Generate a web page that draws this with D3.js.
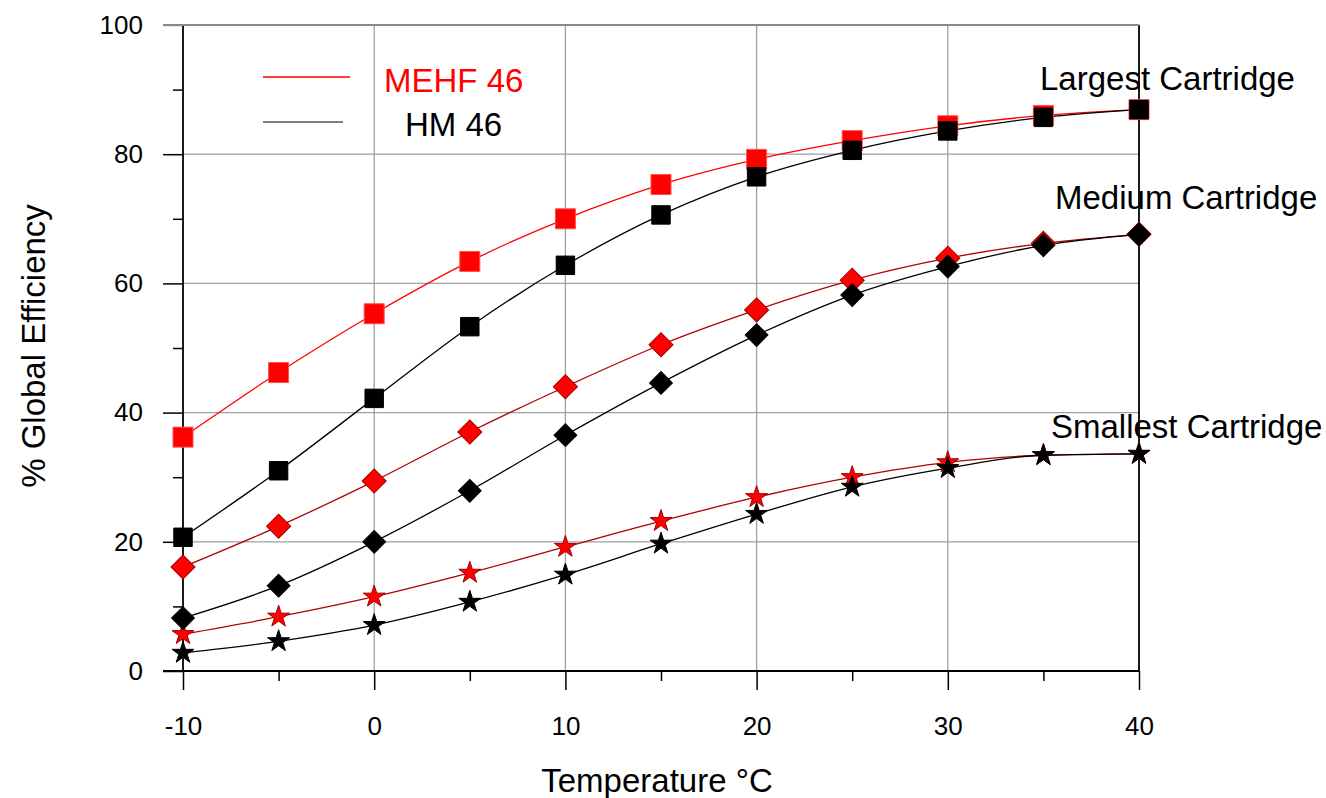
<!DOCTYPE html>
<html>
<head>
<meta charset="utf-8">
<script src="https://cdn.jsdelivr.net/npm/d3@7"></script>
<style>
  body { margin: 0; background: #fff; }
  text { font-family: "Liberation Sans", Arial, sans-serif; fill: #000; }
</style>
</head>
<body>
<div id="chart"></div>
<script>
// temperatures (°C)
var temps = [-10, -5, 0, 5, 10, 15, 20, 25, 30, 35, 40];

// % global efficiency
var mehfLargest  = [36.2, 46.2, 55.3, 63.4, 70.0, 75.3, 79.2, 82.1, 84.4, 86.0, 86.9];
var hmLargest    = [20.7, 31.0, 42.2, 53.3, 62.8, 70.6, 76.5, 80.6, 83.6, 85.7, 86.9];
var mehfMedium   = [16.1, 22.4, 29.4, 37.0, 44.0, 50.5, 55.9, 60.5, 63.9, 66.2, 67.6];
var hmMedium     = [8.2, 13.2, 20.0, 27.9, 36.5, 44.6, 52.0, 58.2, 62.6, 65.9, 67.6];
var mehfSmallest = [5.7, 8.4, 11.5, 15.2, 19.2, 23.2, 26.9, 30.0, 32.3, 33.4, 33.6];
var hmSmallest   = [2.8, 4.6, 7.1, 10.7, 14.9, 19.7, 24.3, 28.5, 31.4, 33.4, 33.6];

var xMajor = [-10, 0, 10, 20, 30, 40];
var xMinor = [-5, 5, 15, 25, 35];
var yMajor = [0, 20, 40, 60, 80, 100];
var yMinor = [10, 30, 50, 70, 90];

var width = 1326, height = 798;
var margin = { top: 25, right: 187, bottom: 127, left: 183 };

var svg = d3.select("#chart").append("svg")
    .attr("width", width)
    .attr("height", height);

var plotW = width - margin.left - margin.right;
var plotH = height - margin.top - margin.bottom;

var g = svg.append("g")
    .attr("transform", "translate(" + margin.left + "," + margin.top + ")");

var x = d3.scaleLinear().domain([-10, 40]).range([0, plotW]);
var y = d3.scaleLinear().domain([0, 100]).range([plotH, 0]);

// grid
g.selectAll(".hgrid").data(yMajor.filter(function(d) { return d > 0; }))
    .enter().append("line")
    .attr("x1", 0).attr("x2", plotW)
    .attr("y1", function(d) { return y(d); })
    .attr("y2", function(d) { return y(d); })
    .attr("stroke", "#a0a0a0").attr("stroke-width", 1.3);

g.selectAll(".vgrid").data(xMajor.filter(function(d) { return d > -10 && d < 40; }))
    .enter().append("line")
    .attr("x1", function(d) { return x(d); })
    .attr("x2", function(d) { return x(d); })
    .attr("y1", 0).attr("y2", plotH)
    .attr("stroke", "#a0a0a0").attr("stroke-width", 1.3);

// axes
var plainNum = function(d) { return String(d); };   // hyphen minus, like the source

var yAxis = g.append("g")
    .call(d3.axisLeft(y).tickValues(yMajor).tickSize(20).tickPadding(20).tickFormat(plainNum));
g.append("g")
    .call(d3.axisLeft(y).tickValues(yMinor).tickSize(10).tickFormat(""));

var xAxis = g.append("g")
    .attr("transform", "translate(0," + plotH + ")")
    .call(d3.axisBottom(x).tickValues(xMajor).tickSize(19).tickPadding(27).tickFormat(plainNum));
g.append("g")
    .attr("transform", "translate(0," + plotH + ")")
    .call(d3.axisBottom(x).tickValues(xMinor).tickSize(10).tickFormat(""));

g.selectAll(".domain").remove();
g.selectAll(".tick line").attr("stroke", "#000").attr("stroke-width", 1.5);
g.selectAll(".tick text")
    .style("font-family", "'Liberation Sans', Arial, sans-serif")
    .style("font-size", "26px")
    .attr("fill", "#000");
// the tick at y=100 is gray like the top border
yAxis.selectAll(".tick").filter(function(d) { return d === 100; }).select("line").attr("stroke", "#a0a0a0");

// frame lines
g.append("line").attr("x1", -20).attr("x2", plotW).attr("y1", plotH).attr("y2", plotH)
    .attr("stroke", "#000").attr("stroke-width", 1.8);
g.append("line").attr("x1", 0).attr("x2", 0).attr("y1", 0).attr("y2", plotH)
    .attr("stroke", "#000").attr("stroke-width", 1.8);
g.append("line").attr("x1", plotW).attr("x2", plotW).attr("y1", 0).attr("y2", plotH)
    .attr("stroke", "#000").attr("stroke-width", 1.8);
g.append("line").attr("x1", -20).attr("x2", plotW).attr("y1", 0).attr("y2", 0)
    .attr("stroke", "#8a8a8a").attr("stroke-width", 1.8);

// series
var line = d3.line()
    .x(function(d) { return x(d[0]); })
    .y(function(d) { return y(d[1]); })
    .curve(d3.curveMonotoneX);

function pairs(vals) {
    return temps.map(function(t, i) { return [t, vals[i]]; });
}

var series = [
    { vals: mehfLargest,  line: "#ff0000", fill: "#ff0000", stroke: "#ff5050", shape: "square", size: 400 },
    { vals: mehfMedium,   line: "#b00000", fill: "#ff0000", stroke: "#a00000", shape: "diamond", size: 290 },
    { vals: mehfSmallest, line: "#b00000", fill: "#ff0000", stroke: "#a00000", shape: "star", size: 150 },
    { vals: hmLargest,    line: "#000000", fill: "#000000", stroke: "#000000", shape: "square", size: 340 },
    { vals: hmMedium,     line: "#000000", fill: "#000000", stroke: "#000000", shape: "diamond", size: 260 },
    { vals: hmSmallest,   line: "#000000", fill: "#000000", stroke: "#000000", shape: "star", size: 150 }
];

series.forEach(function(s) {
    g.append("path")
        .datum(pairs(s.vals))
        .attr("fill", "none")
        .attr("stroke", s.line)
        .attr("stroke-width", 1.3)
        .attr("d", line);
});

series.forEach(function(s) {
    var sym = s.shape === "star" ? d3.symbolStar : d3.symbolSquare;
    var rot = s.shape === "diamond" ? 45 : 0;
    g.selectAll(null)
        .data(pairs(s.vals))
        .enter().append("path")
        .attr("d", d3.symbol().type(sym).size(s.size))
        .attr("transform", function(d) {
            return "translate(" + x(d[0]) + "," + y(d[1]) + ") rotate(" + rot + ")";
        })
        .attr("fill", s.fill)
        .attr("stroke", s.stroke)
        .attr("stroke-width", 1)
        .attr("stroke-linejoin", s.shape === "square" && s.fill === "#ff0000" ? "round" : "miter");
});

// legend
svg.append("line").attr("x1", 263).attr("x2", 350).attr("y1", 77).attr("y2", 77)
    .attr("stroke", "#ff0000").attr("stroke-width", 1.5);
svg.append("line").attr("x1", 263).attr("x2", 343).attr("y1", 122).attr("y2", 122)
    .attr("stroke", "#555").attr("stroke-width", 1.5);
svg.append("text").attr("x", 384).attr("y", 92)
    .style("font-size", "33px").style("fill", "#ff0000").text("MEHF 46");
svg.append("text").attr("x", 405).attr("y", 136)
    .style("font-size", "33px").text("HM 46");

// group labels
svg.append("text").attr("x", 1040).attr("y", 90).style("font-size", "33px").text("Largest Cartridge");
svg.append("text").attr("x", 1055).attr("y", 209).style("font-size", "33px").text("Medium Cartridge");
svg.append("text").attr("x", 1051).attr("y", 438).style("font-size", "33px").text("Smallest Cartridge");

// axis titles
svg.append("text")
    .attr("x", margin.left + plotW / 2 - 4).attr("y", 792)
    .attr("text-anchor", "middle")
    .style("font-size", "33px")
    .text("Temperature °C");
svg.append("text")
    .attr("transform", "translate(45," + (margin.top + plotH / 2 - 2) + ") rotate(-90)")
    .attr("text-anchor", "middle")
    .style("font-size", "33px")
    .text("% Global Efficiency");
</script>
</body>
</html>
